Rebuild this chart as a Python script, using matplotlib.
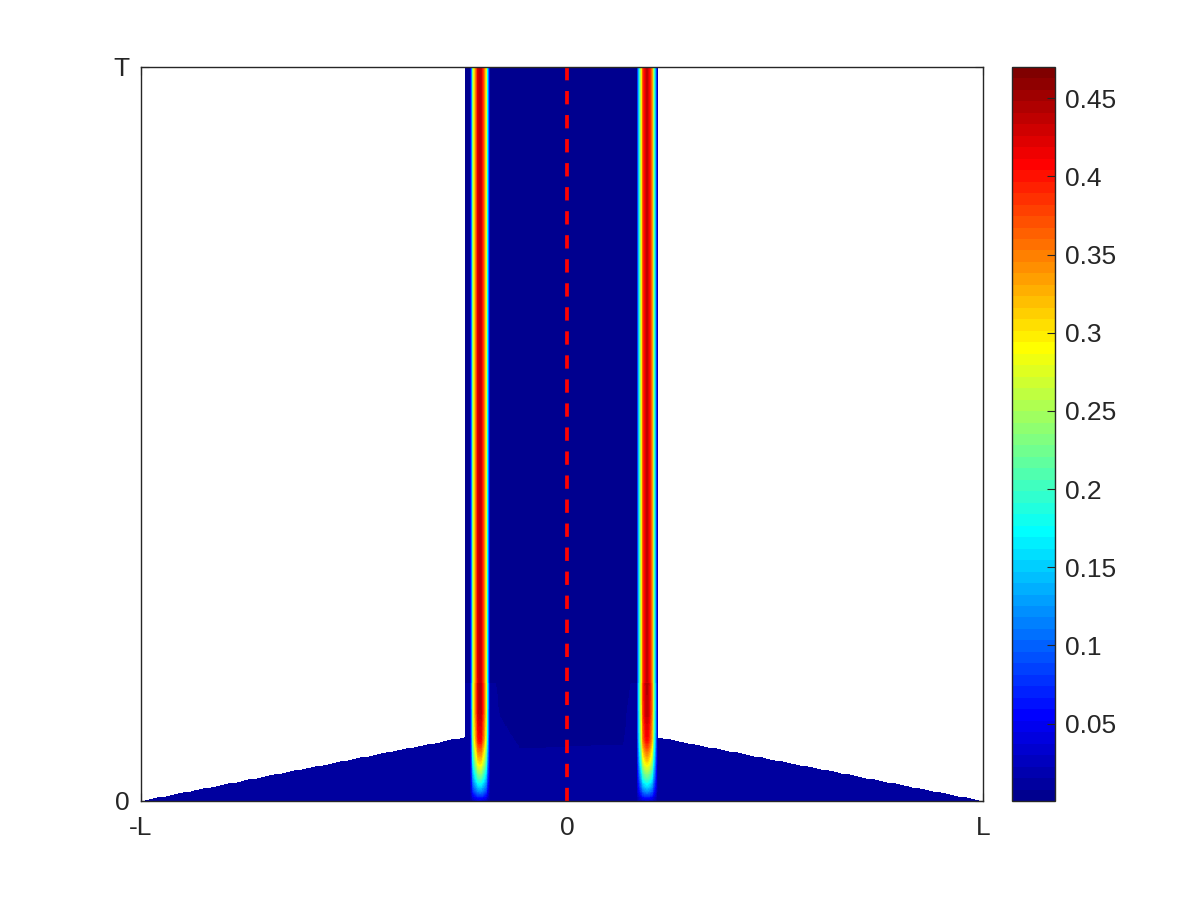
import numpy as np
import matplotlib
matplotlib.use("Agg")
import matplotlib.pyplot as plt
from matplotlib.colors import ListedColormap, Normalize

plt.rcParams['font.family'] = ['Liberation Sans', 'DejaVu Sans']
plt.rcParams['lines.scale_dashes'] = False

# ---- values (x in units of L, t in units of T) ----
x_tick_pos = [-1.0, 0.012, 1.0]
x_tick_labels = ['-L', '0', 'L']
t_tick_pos = [0.0, 1.0]
t_tick_labels = ['0', 'T']

strip_edges = [-0.230, 0.226]      # width of the domain after it stops shrinking
t_shrink = 0.087                   # time at which the domain stops shrinking
peak_x = [-0.195, 0.202]           # centres of the two bright fronts
peak_half_width = 0.0245

# growth of the front amplitude near t = 0
amp_t = [0.0, 0.004, 0.011, 0.026, 0.053, 0.083, 0.12, 0.17, 1.0]
amp_val = [0.03, 0.05, 0.10, 0.18, 0.30, 0.40, 0.43, 0.435, 0.435]

# background level: lighter zone near the bottom, dark above
bg_low = 0.011
bg_high = 0.002
bg_edge_x = [-0.230, -0.157, -0.147, -0.100, 0.090, 0.145, 0.162, 0.226]
bg_edge_t = [0.16, 0.16, 0.115, 0.072, 0.076, 0.076, 0.16, 0.16]

clim = [0.0005, 0.47]
cbar_ticks = [0.05, 0.10, 0.15, 0.20, 0.25, 0.30, 0.35, 0.40, 0.45]


def matlab_jet(m=64):
    # same construction as MATLAB's jet(m)
    n = int(np.ceil(m / 4))
    u = np.concatenate([np.arange(1, n + 1) / n, np.ones(n - 1), np.arange(n, 0, -1) / n])
    g = int(np.ceil(n / 2)) - (1 if m % 4 == 1 else 0) + np.arange(1, len(u) + 1)
    r = g + n
    b = g - n
    J = np.zeros((m, 3))
    J[r[r <= m] - 1, 0] = u[r <= m]
    J[g[g <= m] - 1, 1] = u[g <= m]
    J[b[b >= 1] - 1, 2] = u[b >= 1]
    return ListedColormap(J)


# ---- build the field on a grid ----
xs = np.linspace(-1, 1, 1001)
ts = np.linspace(0, 1, 901)
X, Tg = np.meshgrid(xs, ts)

frac = np.clip(Tg / t_shrink, 0, 1)
x_left = -1 + (strip_edges[0] + 1) * frac
x_right = 1 - (1 - strip_edges[1]) * frac
outside = (X < x_left) | (X > x_right)

in_strip = (X >= strip_edges[0]) & (X <= strip_edges[1])
t_edge = np.interp(X, bg_edge_x, bg_edge_t)
field = np.where(in_strip & (Tg > t_edge), bg_high, bg_low)

amp = np.interp(Tg, amp_t, amp_val)
for px in peak_x:
    prof = np.clip(1 - ((X - px) / peak_half_width) ** 2, 0, None)
    field = field + amp * prof

field = np.ma.masked_where(outside, field)

# ---- draw ----
fig = plt.figure(figsize=(12, 9), dpi=100)
ax = fig.add_axes([0.1175, 0.11, 0.7017, 0.8156])
cax = fig.add_axes([0.8433, 0.11, 0.0358, 0.8156])

cmap = matlab_jet(64)
mesh = ax.pcolormesh(xs, ts, field, cmap=cmap, norm=Normalize(*clim), shading='nearest',
                     rasterized=True)

ax.plot([x_tick_pos[1], x_tick_pos[1]], [1, 0], color='red', lw=2.7, dashes=(9.6, 7.7))

ax.set_xlim(-1, 1)
ax.set_ylim(0, 1)
ax.set_xticks(x_tick_pos, x_tick_labels)
ax.set_yticks(t_tick_pos, t_tick_labels)

dark = '0.15'
for sp in ax.spines.values():
    sp.set_color(dark)
    sp.set_linewidth(1.0)
ax.tick_params(direction='in', top=True, right=True, length=6, width=0.8, color=dark,
               labelcolor=dark, labelsize=19)
ax.tick_params(axis='x', pad=11)
ax.tick_params(axis='y', pad=8)

cb = fig.colorbar(mesh, cax=cax)
cb.set_ticks(cbar_ticks, labels=['%g' % v for v in cbar_ticks])
cb.outline.set_edgecolor(dark)
cb.outline.set_linewidth(1.0)
cax.tick_params(direction='in', length=6, width=0.8, color=dark, labelcolor=dark,
                labelsize=19, pad=7)

fig.savefig('out.png', dpi=100)
